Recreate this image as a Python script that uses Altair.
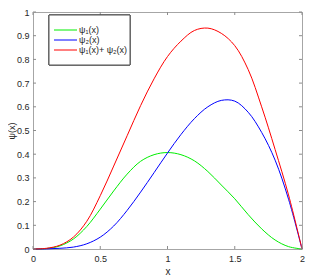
import altair as alt
import pandas as pd

# x grid and series values
xs = [0.0, 0.1, 0.2, 0.3, 0.4, 0.5, 0.6, 0.7, 0.8, 0.9, 1.0,
      1.1, 1.2, 1.3, 1.4, 1.5, 1.6, 1.7, 1.8, 1.9, 2.0]
psi1 = [0.0, 0.002, 0.013, 0.042, 0.095, 0.168, 0.245, 0.316, 0.37, 0.398, 0.407,
        0.398, 0.372, 0.327, 0.27, 0.212, 0.145, 0.085, 0.038, 0.01, 0.0]
psi2 = [0.0, 0.0005, 0.003, 0.008, 0.022, 0.05, 0.097, 0.163, 0.24, 0.322, 0.405,
        0.483, 0.55, 0.6, 0.627, 0.624, 0.577, 0.492, 0.375, 0.21, 0.0]
psisum = [0.0, 0.003, 0.016, 0.05, 0.117, 0.225, 0.35, 0.478, 0.605, 0.718, 0.812,
          0.877, 0.922, 0.932, 0.91, 0.858, 0.757, 0.6, 0.42, 0.228, 0.0]

series_names = ["ψ₁(x)", "ψ₂(x)", "ψ₁(x)+ ψ₂(x)"]
series_colors = ["#00ee00", "#0000ff", "#ff0000"]

x_ticks = [0, 0.5, 1, 1.5, 2]
y_ticks = [0, 0.1, 0.2, 0.3, 0.4, 0.5, 0.6, 0.7, 0.8, 0.9, 1]

rows = []
for name, vals in zip(series_names, [psi1, psi2, psisum]):
    for x, v in zip(xs, vals):
        rows.append({"x": x, "v": v, "s": name})
df = pd.DataFrame(rows)
leg_df = pd.DataFrame({"s": series_names, "c": series_colors})

W, H = 269, 237
FONT = "Liberation Sans"
TICK_COLOR = "#8c8c8c"
TEXT_COLOR = "#262626"

xscale = alt.Scale(domain=[0, 2], nice=False, zero=False)
yscale = alt.Scale(domain=[0, 1], nice=False, zero=False)
cscale = alt.Scale(domain=series_names, range=series_colors)

x_axis = alt.Axis(values=x_ticks, title="x", grid=False, ticks=False,
                  domain=False, labelPadding=5, titlePadding=3,
                  format="~g", labelFlush=False, labelOverlap=False)
y_axis = alt.Axis(values=y_ticks, title="ψ(x)", grid=False, ticks=False,
                  domain=False, labelPadding=4, format="~g",
                  labelOverlap=False, labelFlush=False,
                  titleX=-17, titleY=H / 2, titleFontSize=9)

lines = alt.Chart(df).mark_line(interpolate="catmull-rom", strokeWidth=1).encode(
    x=alt.X("x:Q", scale=xscale, axis=x_axis),
    y=alt.Y("v:Q", scale=yscale, axis=y_axis),
    color=alt.Color("s:N", scale=cscale, legend=None),
    order=alt.Order("x:Q"),
)

xt = pd.DataFrame({"t": x_ticks})
yt = pd.DataFrame({"t": y_ticks})

xt_bottom = alt.Chart(xt).mark_rule(color=TICK_COLOR, strokeWidth=1).encode(
    x=alt.X("t:Q", scale=xscale, axis=x_axis), y=alt.value(H), y2=alt.value(H - 3))
xt_top = alt.Chart(xt).mark_rule(color=TICK_COLOR, strokeWidth=1).encode(
    x=alt.X("t:Q", scale=xscale, axis=x_axis), y=alt.value(0), y2=alt.value(3))
yt_left = alt.Chart(yt).mark_rule(color=TICK_COLOR, strokeWidth=1).encode(
    y=alt.Y("t:Q", scale=yscale, axis=y_axis), x=alt.value(0), x2=alt.value(3))
yt_right = alt.Chart(yt).mark_rule(color=TICK_COLOR, strokeWidth=1).encode(
    y=alt.Y("t:Q", scale=yscale, axis=y_axis), x=alt.value(W - 3), x2=alt.value(W))

main = alt.layer(lines, xt_bottom, xt_top, yt_left, yt_right)

# legend box built from the series names
leg_y = alt.Y("s:N", scale=alt.Scale(type="point", domain=series_names,
                                     range=[13, 43]), axis=None)
leg_box = alt.Chart(leg_df).mark_rect(
    fill="white", stroke="#555555", strokeWidth=1
).encode(x=alt.value(16), x2=alt.value(97), y=alt.value(3), y2=alt.value(53))
leg_sym = alt.Chart(leg_df).mark_rule(strokeWidth=1).encode(
    x=alt.value(21), x2=alt.value(44), y=leg_y,
    stroke=alt.Stroke("c:N", scale=None, legend=None))
leg_txt = alt.Chart(leg_df).mark_text(
    align="left", baseline="middle", font=FONT, fontSize=9, fill=TEXT_COLOR
).encode(x=alt.value(46), y=leg_y, text="s:N")

legend = alt.layer(leg_box, leg_sym, leg_txt)

chart = alt.layer(main, legend).resolve_scale(y="independent").properties(
    width=W, height=H,
    padding={"left": 25, "top": 4, "right": 6, "bottom": 26},
    autosize="none",
).configure_view(
    stroke="#a6a6a6", strokeWidth=1
).configure_axis(
    labelFont=FONT, titleFont=FONT, labelFontSize=9, titleFontSize=10,
    labelColor=TEXT_COLOR, titleColor=TEXT_COLOR, titleFontWeight="normal",
)

chart.save("out.html", embed_options={"renderer": "svg", "actions": False})
